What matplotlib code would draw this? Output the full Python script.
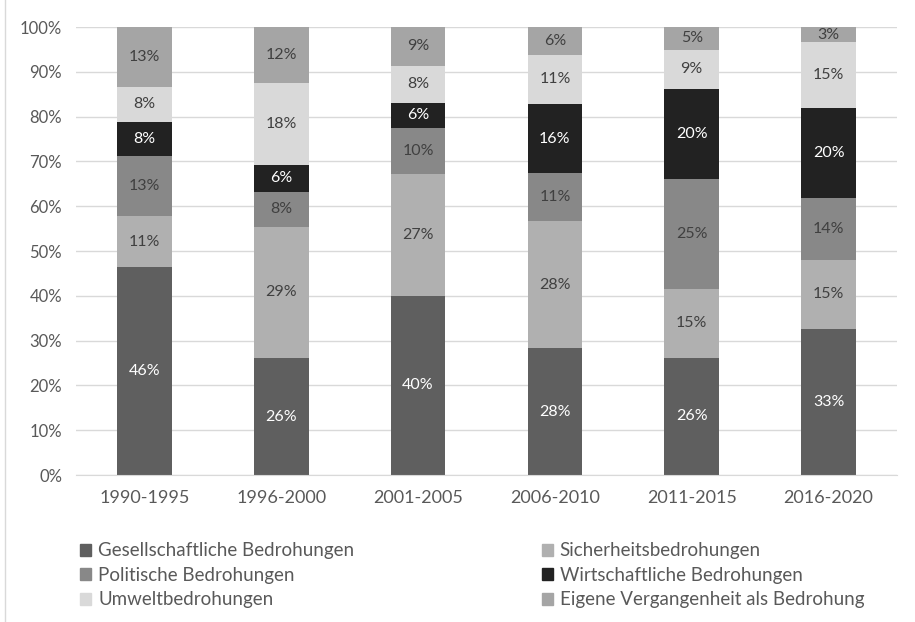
import matplotlib.pyplot as plt
from matplotlib.lines import Line2D
from matplotlib.patches import Patch
import numpy as np

plt.rcParams['font.family'] = ['Lato', 'DejaVu Sans']

periods = ['1990-1995', '1996-2000', '2001-2005', '2006-2010', '2011-2015', '2016-2020']

# shares in %, bottom to top
gesellschaft = [46.4, 26.1, 40.0, 28.3, 26.2, 32.6]
sicherheit = [11.4, 29.3, 27.2, 28.4, 15.3, 15.4]
politik = [13.4, 7.8, 10.3, 10.6, 24.6, 13.9]
wirtschaft = [7.7, 6.0, 5.6, 15.6, 20.1, 20.0]
umwelt = [7.7, 18.4, 8.3, 10.8, 8.7, 14.7]
vergangenheit = [13.4, 12.4, 8.6, 6.3, 5.1, 3.4]

series = [
    ('Gesellschaftliche Bedrohungen', gesellschaft, '#5f5f5f', 'white'),
    ('Sicherheitsbedrohungen', sicherheit, '#b0b0b0', '#404040'),
    ('Politische Bedrohungen', politik, '#888888', '#404040'),
    ('Wirtschaftliche Bedrohungen', wirtschaft, '#222222', 'white'),
    ('Umweltbedrohungen', umwelt, '#d9d9d9', '#404040'),
    ('Eigene Vergangenheit als Bedrohung', vergangenheit, '#a5a5a5', '#404040'),
]

fig = plt.figure(figsize=(9.15, 6.22), dpi=100)
ax = fig.add_axes([76 / 915, 147 / 622, 821 / 915, 448 / 622])

x = np.arange(len(periods))
bottom = np.zeros(len(periods))
for name, vals, col, tcol in series:
    vals = np.array(vals)
    ax.bar(x, vals, 0.40, bottom=bottom, color=col, zorder=2)
    for xi, b, v in zip(x, bottom, vals):
        ax.text(xi, b + v / 2, '{:.0f}%'.format(v), ha='center', va='center',
                color=tcol, fontsize=11.5)
    bottom += vals

ax.set_xlim(-0.5, 5.5)
ax.set_ylim(0, 100)
ax.set_yticks(range(0, 101, 10))
ax.set_yticklabels(['{}%'.format(t) for t in range(0, 101, 10)])
ax.set_xticks(x)
ax.set_xticklabels(periods)
ax.grid(axis='y', color='#d9d9d9', linewidth=1, zorder=0)
for s in ['top', 'right', 'left']:
    ax.spines[s].set_visible(False)
ax.spines['bottom'].set_color('#d9d9d9')
ax.tick_params(axis='both', length=0, colors='#595959')
ax.tick_params(axis='x', pad=11, labelsize=13)
ax.tick_params(axis='y', pad=10, labelsize=12)

# legend: column-first ordering
order = [0, 2, 4, 1, 3, 5]
handles = [Patch(color=series[i][2]) for i in order]
labels = [series[i][0] for i in order]
fig.legend(handles, labels, loc='upper left', bbox_to_anchor=(71 / 915, 1 - 533 / 622),
           ncol=2, frameon=False, fontsize=13.5, labelcolor='#595959',
           handlelength=0.57, handleheight=0.57, handletextpad=0.38,
           columnspacing=10.0, labelspacing=0.4, borderpad=0)

fig.add_artist(Line2D([5 / 915, 5 / 915], [0, 1], color='#d9d9d9', linewidth=1))

fig.savefig('out.png', dpi=100)
